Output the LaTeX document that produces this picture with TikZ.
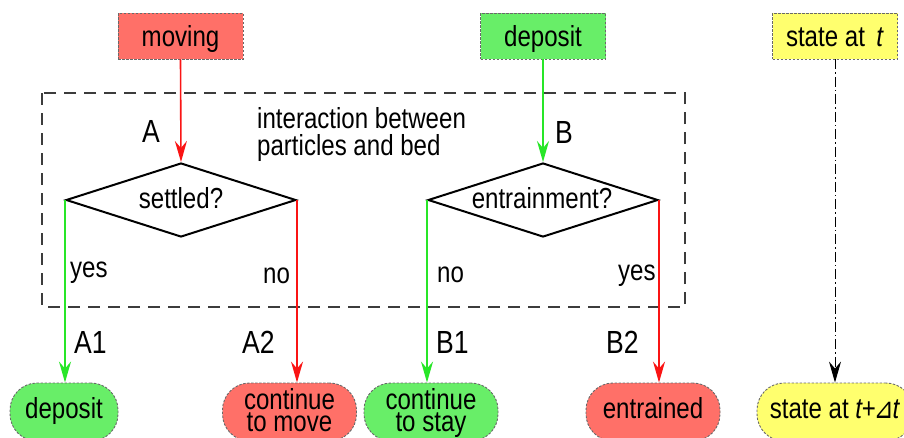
\documentclass[tikz,border=0pt]{standalone}
\usepackage{fontspec}
\setmainfont{Liberation Sans}[FakeStretch=0.83]
\newfontfamily\trifont{DejaVu Sans}[FakeStretch=0.83]
\usetikzlibrary{arrows.meta, shapes.geometric}

\definecolor{redfill}{RGB}{255,112,104}
\definecolor{greenfill}{RGB}{104,238,104}
\definecolor{yellowfill}{RGB}{255,255,110}
\definecolor{boxline}{RGB}{105,105,105}
\definecolor{redline}{RGB}{250,20,20}
\definecolor{greenline}{RGB}{40,230,40}
\definecolor{frameline}{RGB}{60,60,60}

\tikzset{
  txt/.style={font=\fontsize{29}{24}\selectfont, text=black},
  bigtxt/.style={font=\fontsize{32}{32}\selectfont, inner sep=0},
  statebox/.style={txt, draw=boxline, line width=0.9pt, dash pattern=on 2.5pt off 1.5pt,
    minimum width=125pt, minimum height=46pt, inner sep=0, text height=22pt, text depth=0.5pt},
  endbox/.style={txt, draw=boxline, line width=0.9pt, dash pattern=on 2.5pt off 1.5pt,
    rounded corners=27pt, minimum height=58pt, inner sep=0, align=center,
    text height=21pt, text depth=9pt},
  twoline/.style={font=\fontsize{29}{22.5}\selectfont, text height=39pt, text depth=0pt},
  decision/.style={draw=black, line width=2pt, shape=diamond, minimum width=230pt,
    minimum height=74pt, inner sep=0},
  flow/.style={line width=1.6pt, -{Stealth[length=21pt, width=12pt, inset=7pt]}},
}

\begin{document}
\begin{tikzpicture}[x=1pt, y=-1pt]
  \useasboundingbox (0,0) rectangle (904,437);
  \clip (0,0) rectangle (904,437);
  \fill[white] (0,0) rectangle (904,437);

  % dashed frame around the interaction stage
  \draw[frameline, line width=1.5pt, dash pattern=on 12pt off 8pt] (42,93) rectangle (685,307);
  \node[txt, anchor=north west, inner sep=0, align=left, font=\fontsize{29}{27.5}\selectfont]
    (inter) at (257,107) {interaction between\\particles and bed};

  % states at time t
  \node[statebox, fill=redfill] (moving) at (180.5,36) {moving};
  \node[statebox, fill=greenfill] (depTop) at (543,36) {deposit};
  \node[statebox, fill=yellowfill] (stT) at (835,36) {state at \,\textit{t}};

  % decisions
  \node[decision] (dA) at (181,200) {};
  \node[txt, inner sep=0, anchor=base] (dAtxt) at (181,208) {settled?};
  \node[decision] (dB) at (543,200) {};
  \node[txt, inner sep=0, anchor=base] (dBtxt) at (542,208) {entrainment?};

  % states at time t + dt
  \node[endbox, fill=greenfill, minimum width=108pt] (A1box) at (64,412) {deposit};
  \node[endbox, twoline, fill=redfill, minimum width=134pt] (A2box) at (289.5,412) {continue\\to move};
  \node[endbox, twoline, fill=greenfill, minimum width=134pt] (B1box) at (431,412) {continue\\to stay};
  \node[endbox, fill=redfill, minimum width=134pt] (B2box) at (653,412) {entrained};
  \node[endbox, fill=yellowfill, minimum width=156pt] (stTdt) at (835,412)
    {state at \textit{t}\kern-1pt+\kern-2.5pt{\trifont\itshape ⊿}\kern-1pt\textit{t}};

  % connectors
  \draw[flow, redline] (moving.south) -- (dA.north);
  \draw[flow, greenline] (depTop.south) -- (dB.north);
  \draw[flow, greenline] (dA.west) -- (dA.west |- A1box.north);
  \draw[flow, redline] (dA.east) -- (dA.east |- A2box.north);
  \draw[flow, greenline] (dB.west) -- (dB.west |- B1box.north);
  \draw[flow, redline] (dB.east) -- (dB.east |- B2box.north);
  \draw[black, line width=1pt, dash pattern=on 10pt off 3pt on 1.5pt off 3pt,
    -{Stealth[length=21pt, width=12pt, inset=7pt]}] (stT.south) -- (stTdt.north);

  % branch labels
  \node[bigtxt, anchor=base west] (lA) at (142,142) {A};
  \node[bigtxt, anchor=base west] (lB) at (555,143) {B};
  \node[bigtxt, anchor=base west] (lA1) at (74,353) {A1};
  \node[bigtxt, anchor=base west] (lA2) at (242,353) {A2};
  \node[bigtxt, anchor=base west] (lB1) at (436,353) {B1};
  \node[bigtxt, anchor=base west] (lB2) at (606,353) {B2};
  \node[txt, inner sep=0, anchor=base west] (yA) at (70,277) {yes};
  \node[txt, inner sep=0, anchor=base west] (nA) at (263,283) {no};
  \node[txt, inner sep=0, anchor=base west] (nB) at (437,282) {no};
  \node[txt, inner sep=0, anchor=base west] (yB) at (618,280) {yes};
\end{tikzpicture}
\end{document}
